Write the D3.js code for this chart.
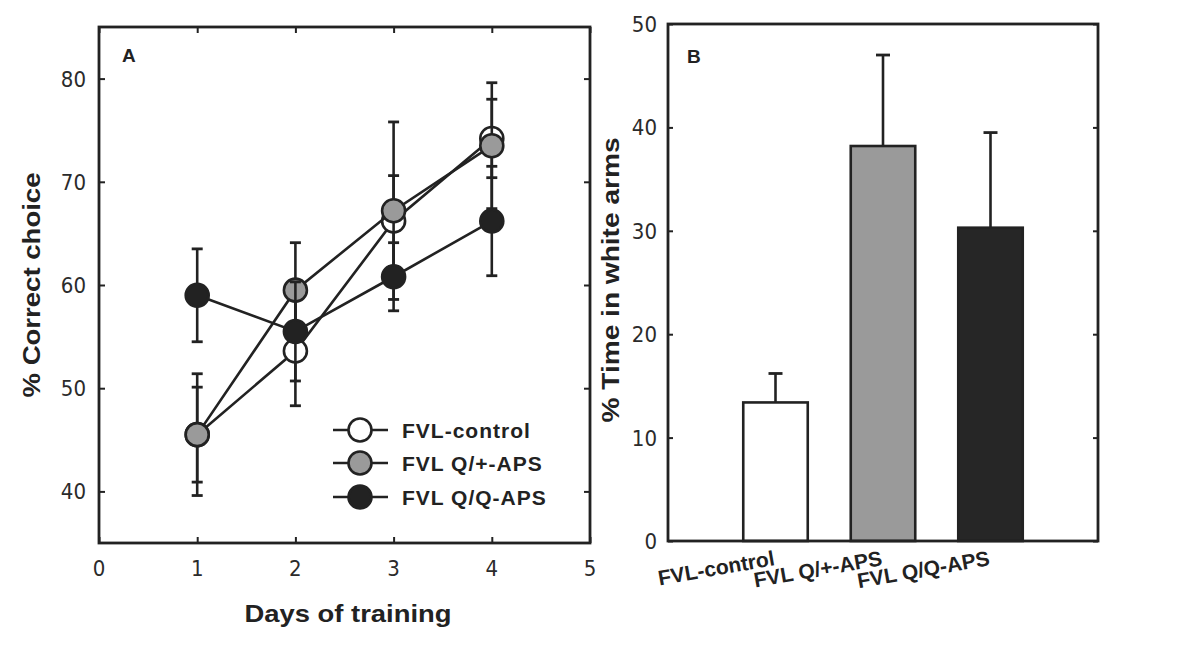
<!DOCTYPE html>
<html>
<head>
<meta charset="utf-8">
<script src="https://cdn.jsdelivr.net/npm/d3@7"></script>
<style>
  html, body { margin: 0; padding: 0; background: #fff; }
  svg { display: block; }
  .tick-label { font-family: "Liberation Sans Narrow", "DejaVu Sans Condensed", "Liberation Sans", sans-serif; font-size: 22px; fill: #2b2b2b; }
  .bold { font-family: "Liberation Sans", Arial, sans-serif; font-weight: bold; fill: #222; }
</style>
</head>
<body>
<svg id="chart" width="1200" height="646"></svg>
<script>
// ---------- Panel A data ----------
const days = [1, 2, 3, 4];
const seriesNames = ["FVL-control", "FVL Q/+-APS", "FVL Q/Q-APS"];
const controlMean = [45.5, 53.6, 66.2, 74.2];
const controlErr  = [4.6, 5.3, 4.4, 3.8];
const qPlusMean   = [45.5, 59.5, 67.2, 73.5];
const qPlusErr    = [5.9, 4.6, 8.6, 6.1];
const qqMean      = [59.0, 55.5, 60.8, 66.2];
const qqErr       = [4.5, 4.8, 3.3, 5.3];
const seriesFills = ["#ffffff", "#9a9a9a", "#222222"];
const xTicksA = [0, 1, 2, 3, 4, 5];
const yTicksA = [40, 50, 60, 70, 80];

// ---------- Panel B data ----------
const groupsB = ["FVL-control", "FVL Q/+-APS", "FVL Q/Q-APS"];
const timeWhite = [13.4, 38.2, 30.3];
const timeWhiteErr = [2.8, 8.8, 9.2];
const barFills = ["#ffffff", "#9a9a9a", "#262626"];
const yTicksB = [0, 10, 20, 30, 40, 50];

const svg = d3.select("#chart");
const ink = "#222";
const sw = 2.6;

// ================= Panel A =================
const ax = { left: 99, right: 590, top: 27, bottom: 543 };
const xA = d3.scaleLinear().domain([0, 5]).range([ax.left, ax.right]);
const yA = d3.scaleLinear().domain([35, 85]).range([ax.bottom, ax.top]);
const gA = svg.append("g");

// ticks inward on all four sides
const tickLen = 6;
gA.append("g").attr("transform", `translate(0,${ax.bottom})`)
  .call(d3.axisTop(xA).tickValues(xTicksA).tickSize(tickLen).tickFormat(""))
  .call(g => g.select(".domain").remove());
gA.append("g").attr("transform", `translate(0,${ax.top})`)
  .call(d3.axisBottom(xA).tickValues(xTicksA).tickSize(tickLen).tickFormat(""))
  .call(g => g.select(".domain").remove());
gA.append("g").attr("transform", `translate(${ax.left},0)`)
  .call(d3.axisRight(yA).tickValues(yTicksA).tickSize(tickLen).tickFormat(""))
  .call(g => g.select(".domain").remove());
gA.append("g").attr("transform", `translate(${ax.right},0)`)
  .call(d3.axisLeft(yA).tickValues(yTicksA).tickSize(tickLen).tickFormat(""))
  .call(g => g.select(".domain").remove());
gA.selectAll(".tick line").attr("stroke", ink).attr("stroke-width", 2);

// tick labels
gA.selectAll(".xlabA").data(xTicksA).enter().append("text")
  .attr("class", "tick-label").attr("x", d => xA(d)).attr("y", ax.bottom + 33)
  .attr("text-anchor", "middle").text(d => d);
gA.selectAll(".ylabA").data(yTicksA).enter().append("text")
  .attr("class", "tick-label").attr("x", ax.left - 13).attr("y", d => yA(d) + 8)
  .attr("text-anchor", "end").text(d => d);

// frame
gA.append("rect").attr("x", ax.left).attr("y", ax.top)
  .attr("width", ax.right - ax.left).attr("height", ax.bottom - ax.top)
  .attr("fill", "none").attr("stroke", ink).attr("stroke-width", 2.8);

// series
const seriesA = [
  { mean: controlMean, err: controlErr },
  { mean: qPlusMean, err: qPlusErr },
  { mean: qqMean, err: qqErr }
];
const line = d3.line().x((d, i) => xA(days[i])).y(d => yA(d));
const capW = 5.5;
seriesA.forEach((s, k) => {
  const g = gA.append("g");
  days.forEach((d, i) => {
    const x = xA(d), y1 = yA(s.mean[i] + s.err[i]), y2 = yA(s.mean[i] - s.err[i]);
    g.append("line").attr("x1", x).attr("x2", x).attr("y1", y1).attr("y2", y2)
      .attr("stroke", ink).attr("stroke-width", sw);
    [y1, y2].forEach(yy => g.append("line").attr("x1", x - capW).attr("x2", x + capW)
      .attr("y1", yy).attr("y2", yy).attr("stroke", ink).attr("stroke-width", 2.8));
  });
  g.append("path").attr("d", line(s.mean)).attr("fill", "none")
    .attr("stroke", ink).attr("stroke-width", sw);
  g.selectAll("circle").data(s.mean).enter().append("circle")
    .attr("cx", (d, i) => xA(days[i])).attr("cy", d => yA(d)).attr("r", 11.5)
    .attr("fill", seriesFills[k]).attr("stroke", ink).attr("stroke-width", sw);
});

// panel label
gA.append("text").attr("class", "bold").attr("x", 122).attr("y", 62)
  .attr("font-size", 19).text("A");

// legend
const legY = [430, 463, 497];
seriesNames.forEach((name, k) => {
  const g = gA.append("g");
  g.append("line").attr("x1", 333).attr("x2", 388).attr("y1", legY[k]).attr("y2", legY[k])
    .attr("stroke", ink).attr("stroke-width", sw);
  g.append("circle").attr("cx", 360).attr("cy", legY[k]).attr("r", 11.5)
    .attr("fill", seriesFills[k]).attr("stroke", ink).attr("stroke-width", sw);
  g.append("text").attr("class", "bold").attr("x", 402).attr("y", legY[k] + 8)
    .attr("font-size", 21).attr("letter-spacing", 1).text(name);
});

// axis titles
gA.append("text").attr("class", "bold").attr("font-size", 24)
  .attr("x", 348).attr("y", 622).attr("text-anchor", "middle")
  .attr("textLength", 207).attr("lengthAdjust", "spacingAndGlyphs").text("Days of training");
gA.append("text").attr("class", "bold").attr("font-size", 24)
  .attr("transform", "translate(40,285) rotate(-90)").attr("text-anchor", "middle")
  .attr("textLength", 225).attr("lengthAdjust", "spacingAndGlyphs").text("% Correct choice");

// ================= Panel B =================
const bx = { left: 668, right: 1098, top: 24, bottom: 541 };
const xB = d3.scaleBand().domain(groupsB).range([bx.left, bx.right])
  .paddingInner(0.4).paddingOuter(0.7);
const yB = d3.scaleLinear().domain([0, 50]).range([bx.bottom, bx.top]);
const gB = svg.append("g");

gB.append("g").attr("transform", `translate(${bx.left},0)`)
  .call(d3.axisRight(yB).tickValues(yTicksB).tickSize(5).tickFormat(""))
  .call(g => g.select(".domain").remove());
gB.append("g").attr("transform", `translate(${bx.right},0)`)
  .call(d3.axisLeft(yB).tickValues(yTicksB).tickSize(5).tickFormat(""))
  .call(g => g.select(".domain").remove());
gB.selectAll(".tick line").attr("stroke", ink).attr("stroke-width", 2);

gB.selectAll(".ylabB").data(yTicksB).enter().append("text")
  .attr("class", "tick-label").attr("x", bx.left - 11).attr("y", d => yB(d) + 8)
  .attr("text-anchor", "end").text(d => d);

// error bars (upper only)
groupsB.forEach((gname, i) => {
  const cx = xB(gname) + xB.bandwidth() / 2;
  const yt = yB(timeWhite[i] + timeWhiteErr[i]);
  gB.append("line").attr("x1", cx).attr("x2", cx).attr("y1", yB(timeWhite[i])).attr("y2", yt)
    .attr("stroke", ink).attr("stroke-width", sw);
  gB.append("line").attr("x1", cx - 7).attr("x2", cx + 7).attr("y1", yt).attr("y2", yt)
    .attr("stroke", ink).attr("stroke-width", 2.8);
});

// bars
gB.selectAll(".bar").data(timeWhite).enter().append("rect")
  .attr("x", (d, i) => xB(groupsB[i])).attr("width", xB.bandwidth())
  .attr("y", d => yB(d)).attr("height", d => yB(0) - yB(d))
  .attr("fill", (d, i) => barFills[i]).attr("stroke", ink).attr("stroke-width", sw);

// frame
gB.append("rect").attr("x", bx.left).attr("y", bx.top)
  .attr("width", bx.right - bx.left).attr("height", bx.bottom - bx.top)
  .attr("fill", "none").attr("stroke", ink).attr("stroke-width", 2.8);

// category labels
groupsB.forEach((gname, i) => {
  const cx = xB(gname) + xB.bandwidth() / 2;
  gB.append("text").attr("class", "bold").attr("font-size", 21)
    .attr("text-anchor", "end")
    .attr("transform", `translate(${cx},${565}) rotate(-10)`)
    .text(gname);
});

gB.append("text").attr("class", "bold").attr("x", 687).attr("y", 63)
  .attr("font-size", 19).text("B");

gB.append("text").attr("class", "bold").attr("font-size", 24)
  .attr("transform", "translate(619,280) rotate(-90)").attr("text-anchor", "middle")
  .attr("textLength", 285).attr("lengthAdjust", "spacingAndGlyphs").text("% Time in white arms");
</script>
</body>
</html>
